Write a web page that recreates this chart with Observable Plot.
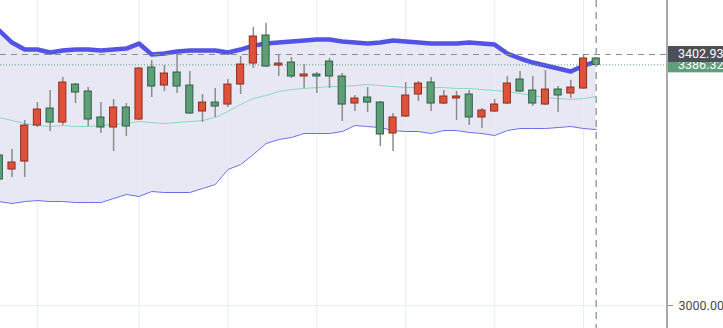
<!DOCTYPE html>
<html>
<head>
<meta charset="utf-8">
<script src="https://cdn.jsdelivr.net/npm/d3@7"></script>
<script src="https://cdn.jsdelivr.net/npm/@observablehq/plot@0.6"></script>
<style>
  html, body { margin: 0; padding: 0; background: #fff; }
  #chart { width: 723px; height: 328px; overflow: hidden; }
</style>
</head>
<body>
<div id="chart"></div>
<script>
// OHLC per bar (bar index = position in array)
const open  = [3240.8,3218.3,3231.1,3288.9,3316.2,3293.7,3354.7,3343.5,3301.8,3285.7,3317.8,3298.5,3382.0,3353.1,3374.0,3353.1,3311.4,3325.8,3322.6,3354.7,3388.4,3433.4,3385.2,3390.0,3367.6,3370.8,3391.6,3367.6,3324.2,3333.9,3325.8,3276.1,3303.4,3338.7,3357.9,3324.2,3332.3,3338.7,3301.8,3311.4,3324.2,3362.8,3345.1,3322.6,3346.7,3340.3,3348.3,3396.5];
const high  = [3245.6,3250.4,3296.9,3325.8,3345.1,3366.0,3356.3,3349.9,3325.8,3330.7,3324.2,3382.0,3393.2,3385.2,3402.9,3375.6,3338.7,3348.3,3362.8,3399.7,3446.2,3452.6,3402.9,3398.1,3386.8,3374.0,3396.5,3372.4,3337.1,3349.9,3327.4,3308.2,3357.9,3359.5,3366.0,3345.1,3343.5,3345.1,3316.2,3330.7,3367.6,3375.6,3367.6,3377.2,3351.5,3361.1,3401.3,3398.1];
const low   = [3197.4,3205.5,3205.5,3285.7,3279.3,3288.9,3324.2,3287.3,3276.1,3247.2,3271.3,3296.9,3333.9,3343.5,3340.3,3307.0,3293.7,3301.8,3317.8,3338.7,3380.4,3382.0,3367.6,3364.4,3348.3,3340.3,3348.3,3295.3,3311.4,3309.8,3255.2,3247.2,3301.8,3327.4,3311.4,3322.6,3296.9,3288.9,3284.1,3309.8,3322.6,3341.9,3319.4,3321.0,3309.8,3332.3,3346.7,3385.2];
const close = [3202.2,3229.5,3288.9,3314.6,3293.7,3357.9,3341.9,3298.5,3285.7,3317.8,3287.3,3380.4,3351.5,3372.4,3351.5,3308.2,3325.8,3319.4,3354.7,3386.8,3431.8,3383.6,3388.4,3367.6,3370.8,3367.6,3367.6,3322.6,3332.3,3325.8,3274.5,3301.8,3337.1,3356.3,3324.2,3335.5,3335.5,3301.8,3313.0,3322.6,3356.3,3343.5,3324.2,3346.7,3337.1,3349.9,3396.5,3386.32];

// Bollinger bands
const upper  = [3441.4,3422.1,3410.9,3410.9,3406.1,3409.3,3410.9,3410.9,3409.3,3410.9,3412.5,3420.5,3402.9,3404.5,3407.7,3409.3,3409.3,3409.3,3406.1,3410.9,3417.3,3420.5,3422.1,3423.7,3425.4,3427.0,3427.0,3423.7,3422.1,3420.5,3422.1,3425.4,3423.7,3422.1,3420.5,3420.5,3420.5,3422.1,3420.5,3418.9,3404.5,3396.5,3390.0,3385.2,3380.4,3375.6,3385.2,3391.6];
const middle = [3301.8,3296.9,3292.1,3288.9,3287.3,3288.9,3287.3,3287.3,3288.9,3290.5,3292.1,3295.3,3293.7,3292.1,3293.7,3295.3,3296.9,3301.8,3311.4,3322.6,3332.3,3337.1,3343.5,3346.7,3348.3,3349.9,3351.5,3351.5,3353.1,3354.7,3353.1,3351.5,3349.9,3349.9,3349.9,3349.9,3348.3,3348.3,3346.7,3345.1,3343.5,3340.3,3337.1,3333.9,3332.3,3330.7,3332.3,3335.5];
const lower  = [3166.9,3163.7,3166.9,3168.5,3166.9,3166.9,3165.3,3165.3,3165.3,3171.7,3178.2,3175.0,3183.0,3181.4,3181.4,3181.4,3187.8,3194.2,3218.3,3226.3,3242.4,3260.0,3266.4,3269.7,3276.1,3276.1,3276.1,3279.3,3288.9,3287.3,3285.7,3280.9,3279.3,3279.3,3276.1,3280.9,3280.9,3277.7,3276.1,3272.9,3280.9,3284.1,3284.1,3284.1,3285.7,3287.3,3284.1,3282.5];

// time grid (bar indices where vertical grid lines fall)
const gridBars = [3, 11, 18, 25, 32, 39, 46];
const yTicks = [3000];
const crossBar = 47;
const crossPrice = 3402.93;
const lastPrice = 3386.32;

const bars = open.map((o, i) => ({
  i, o, h: high[i], l: low[i], c: close[i],
  up: close[i] >= o,
  u: upper[i], m: middle[i], lo: lower[i]
}));

const half = 0.28;
const tags = [
  {value: lastPrice, fill: "#5e9e7b"},
  {value: crossPrice, fill: "#4b5058"}
];

function sideTags(index, scales, values, dims) {
  const g = d3.create("svg:g");
  const x0 = dims.width - dims.marginRight;
  g.append("line")
    .attr("x1", x0).attr("x2", x0).attr("y1", 0).attr("y2", dims.height)
    .attr("stroke", "#8e8e8e").attr("stroke-width", 1.5);
  for (const t of tags) {
    const y = scales.y(t.value);
    g.append("rect")
      .attr("x", x0 + 1).attr("y", y - 8)
      .attr("width", dims.marginRight).attr("height", 16)
      .attr("fill", t.fill);
    g.append("text")
      .attr("x", x0 + 11).attr("y", y).attr("dy", "0.36em")
      .attr("text-anchor", "start")
      .attr("fill", "#ffffff").attr("font-size", 12.5)
      .attr("font-family", "Roboto, sans-serif")
      .text(t.value.toFixed(2));
  }
  return g.node();
}

const chart = Plot.plot({
  width: 723,
  height: 328,
  marginLeft: 0,
  marginRight: 56,
  marginTop: 0,
  marginBottom: 0,
  style: {background: "#ffffff", fontFamily: "Roboto, sans-serif", fontSize: "12.5px", overflow: "hidden"},
  x: {domain: [0.0945, 52.61], axis: null},
  y: {domain: [2963.1, 3489.6], axis: null},
  marks: [
    Plot.areaY(bars, {x: "i", y1: "lo", y2: "u", fill: "rgba(120,120,190,0.17)", clip: true}),
    Plot.ruleX(gridBars, {stroke: "#e6edf5", strokeWidth: 1}),
    Plot.ruleY(yTicks, {stroke: "#e6edf5", strokeWidth: 1}),
    Plot.lineY(bars, {x: "i", y: "lo", stroke: "#6a6aec", strokeWidth: 1, clip: true}),
    Plot.lineY(bars, {x: "i", y: "m", stroke: "#8ad9bd", strokeWidth: 1, clip: true}),
    Plot.lineY(bars, {x: "i", y: "u", stroke: "#5353e6", strokeWidth: 4.5, strokeLinejoin: "round", clip: true}),
    Plot.ruleY([lastPrice], {stroke: "#5e9e7b", strokeWidth: 1, strokeDasharray: "1,2"}),
    Plot.ruleY([crossPrice], {stroke: "#8a8f96", strokeWidth: 1.2, strokeDasharray: "6,5"}),
    Plot.ruleX(bars, {x: "i", y1: "l", y2: "h", stroke: "#8c8c8c", strokeWidth: 1.5, clip: true}),
    Plot.rect(bars, {
      x1: d => d.i - half, x2: d => d.i + half,
      y1: "o", y2: "c",
      fill: d => d.up ? "#e0513a" : "#5d9f79",
      stroke: d => d.up ? "#8e2e20" : "#2f5e42",
      strokeWidth: 1,
      clip: true
    }),
    Plot.ruleX([crossBar], {stroke: "#9aa0a6", strokeWidth: 1.5, strokeDasharray: "7,5"}),
    Plot.axisY({anchor: "right", ticks: yTicks, tickFormat: d => d.toFixed(2), tickSize: 5, tickPadding: 6, stroke: "#8e8e8e", fill: "#4a4a4a", fontSize: 12.5}),
    sideTags
  ]
});

document.getElementById("chart").appendChild(chart);
</script>
</body>
</html>
